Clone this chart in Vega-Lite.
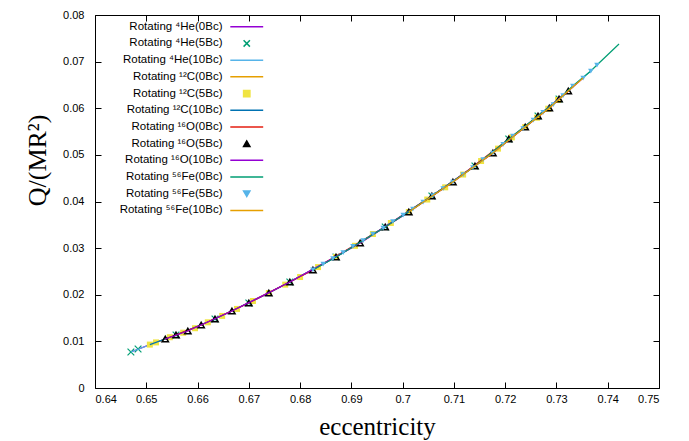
{
  "$schema": "https://vega.github.io/schema/vega-lite/v6.json",
  "width": 564,
  "height": 373,
  "autosize": {"type": "none"},
  "padding": {"left": 95, "top": 15, "right": 30, "bottom": 53},
  "background": "white",
  "config": {
    "font": "Liberation Sans",
    "view": {"stroke": "black", "strokeWidth": 1},
    "axis": {"domain": false, "grid": false, "tickColor": "black", "tickSize": -6, "tickWidth": 1, "labelColor": "black", "labelFontSize": 11, "labelFont": "Liberation Sans", "titleFont": "Liberation Serif", "titleFontSize": 25, "titleFontWeight": "normal", "titleColor": "black"}
  },
  "datasets": {
    "he0": [{"e":0.647,"q":0.00772},{"e":0.6507,"q":0.00931},{"e":0.6558,"q":0.01137},{"e":0.6607,"q":0.01351},{"e":0.6667,"q":0.01651},{"e":0.6739,"q":0.02037},{"e":0.6825,"q":0.02531},{"e":0.6917,"q":0.0311},{"e":0.7012,"q":0.03774},{"e":0.7098,"q":0.04418},{"e":0.7176,"q":0.0504},{"e":0.7239,"q":0.05597},{"e":0.7286,"q":0.06005},{"e":0.7323,"q":0.06369},{"e":0.7352,"q":0.06648}],
    "he5": [{"e":0.647,"q":0.00772},{"e":0.6484,"q":0.00836},{"e":0.6558,"q":0.01137},{"e":0.6634,"q":0.0148},{"e":0.67,"q":0.01823},{"e":0.678,"q":0.02273},{"e":0.687,"q":0.02809},{"e":0.6966,"q":0.03453},{"e":0.7057,"q":0.04118},{"e":0.7141,"q":0.04761},{"e":0.7207,"q":0.0534},{"e":0.7264,"q":0.05833},{"e":0.7305,"q":0.06198}],
    "he10": [{"e":0.647,"q":0.00772},{"e":0.6537,"q":0.01051},{"e":0.6607,"q":0.01351},{"e":0.67,"q":0.01823},{"e":0.678,"q":0.02273},{"e":0.687,"q":0.02809},{"e":0.6966,"q":0.03453},{"e":0.7057,"q":0.04118},{"e":0.7141,"q":0.04761},{"e":0.7207,"q":0.0534},{"e":0.7264,"q":0.05833},{"e":0.7305,"q":0.06198},{"e":0.7332,"q":0.06476},{"e":0.7367,"q":0.06798}],
    "c0": [{"e":0.6507,"q":0.00931},{"e":0.6581,"q":0.01222},{"e":0.6667,"q":0.01651},{"e":0.678,"q":0.02273},{"e":0.6917,"q":0.0311},{"e":0.7057,"q":0.04118},{"e":0.7176,"q":0.0504},{"e":0.7264,"q":0.05833},{"e":0.7323,"q":0.06369}],
    "c5": [{"e":0.6507,"q":0.00931},{"e":0.6519,"q":0.00978},{"e":0.6546,"q":0.01089},{"e":0.6572,"q":0.01186},{"e":0.6595,"q":0.01282},{"e":0.662,"q":0.01409},{"e":0.6648,"q":0.01546},{"e":0.6677,"q":0.01696},{"e":0.6708,"q":0.01866},{"e":0.6739,"q":0.02037},{"e":0.6771,"q":0.02217},{"e":0.68,"q":0.0238},{"e":0.6835,"q":0.02593},{"e":0.687,"q":0.02809},{"e":0.6907,"q":0.0305},{"e":0.6942,"q":0.03303},{"e":0.6977,"q":0.03539},{"e":0.7012,"q":0.03774},{"e":0.7048,"q":0.04042},{"e":0.7083,"q":0.04304},{"e":0.7118,"q":0.04578},{"e":0.7153,"q":0.04868},{"e":0.7186,"q":0.05134},{"e":0.7213,"q":0.05376},{"e":0.7239,"q":0.05597},{"e":0.7262,"q":0.05797},{"e":0.7284,"q":0.0599},{"e":0.7303,"q":0.06178}],
    "c10": [{"e":0.6507,"q":0.00931},{"e":0.6558,"q":0.01137},{"e":0.6634,"q":0.0148},{"e":0.6739,"q":0.02037},{"e":0.687,"q":0.02809},{"e":0.7012,"q":0.03774},{"e":0.7141,"q":0.04761},{"e":0.7239,"q":0.05597},{"e":0.7305,"q":0.06198},{"e":0.7323,"q":0.06369}],
    "o0": [{"e":0.6537,"q":0.01051},{"e":0.6607,"q":0.01351},{"e":0.67,"q":0.01823},{"e":0.6825,"q":0.02531},{"e":0.6966,"q":0.03453},{"e":0.7098,"q":0.04418},{"e":0.7207,"q":0.0534},{"e":0.7286,"q":0.06005},{"e":0.7323,"q":0.06369}],
    "o5": [{"e":0.6537,"q":0.01051},{"e":0.6558,"q":0.01137},{"e":0.6581,"q":0.01222},{"e":0.6607,"q":0.01351},{"e":0.6634,"q":0.0148},{"e":0.6667,"q":0.01651},{"e":0.67,"q":0.01823},{"e":0.6739,"q":0.02037},{"e":0.678,"q":0.02273},{"e":0.6825,"q":0.02531},{"e":0.687,"q":0.02809},{"e":0.6917,"q":0.0311},{"e":0.6966,"q":0.03453},{"e":0.7012,"q":0.03774},{"e":0.7057,"q":0.04118},{"e":0.7098,"q":0.04418},{"e":0.7141,"q":0.04761},{"e":0.7176,"q":0.0504},{"e":0.7207,"q":0.0534},{"e":0.7239,"q":0.05597},{"e":0.7264,"q":0.05833},{"e":0.7286,"q":0.06005},{"e":0.7305,"q":0.06198},{"e":0.7323,"q":0.06369}],
    "o10": [{"e":0.6537,"q":0.01051},{"e":0.6581,"q":0.01222},{"e":0.6667,"q":0.01651},{"e":0.678,"q":0.02273},{"e":0.6917,"q":0.0311},{"e":0.7057,"q":0.04118},{"e":0.7176,"q":0.0504},{"e":0.7264,"q":0.05833},{"e":0.7323,"q":0.06369}],
    "fe0": [{"e":0.6825,"q":0.02531},{"e":0.687,"q":0.02809},{"e":0.6966,"q":0.03453},{"e":0.7057,"q":0.04118},{"e":0.7141,"q":0.04761},{"e":0.7207,"q":0.0534},{"e":0.7264,"q":0.05833},{"e":0.7305,"q":0.06198},{"e":0.7332,"q":0.06476},{"e":0.7367,"q":0.06798},{"e":0.7379,"q":0.06927},{"e":0.7422,"q":0.07377}],
    "fe5": [{"e":0.6825,"q":0.02531},{"e":0.6845,"q":0.02659},{"e":0.6864,"q":0.02777},{"e":0.6884,"q":0.02906},{"e":0.6903,"q":0.03035},{"e":0.6923,"q":0.03163},{"e":0.6942,"q":0.03303},{"e":0.6962,"q":0.03431},{"e":0.6981,"q":0.03571},{"e":0.7001,"q":0.0371},{"e":0.702,"q":0.03839},{"e":0.704,"q":0.03989},{"e":0.7059,"q":0.04128},{"e":0.7079,"q":0.04278},{"e":0.7098,"q":0.04418},{"e":0.7118,"q":0.04578},{"e":0.7137,"q":0.04729},{"e":0.7157,"q":0.049},{"e":0.7176,"q":0.0504},{"e":0.7196,"q":0.05226},{"e":0.7215,"q":0.05404},{"e":0.7235,"q":0.05565},{"e":0.7255,"q":0.05743},{"e":0.7274,"q":0.0591},{"e":0.7294,"q":0.0608},{"e":0.7313,"q":0.06273},{"e":0.7332,"q":0.06476},{"e":0.7352,"q":0.06648},{"e":0.7367,"q":0.06798},{"e":0.7379,"q":0.06927}],
    "fe10": [{"e":0.7012,"q":0.03774},{"e":0.7098,"q":0.04418},{"e":0.7176,"q":0.0504},{"e":0.7239,"q":0.05597},{"e":0.7286,"q":0.06005},{"e":0.7323,"q":0.06369},{"e":0.7352,"q":0.06648}]
  },
  "encoding": {
    "x": {"field": "e", "type": "quantitative", "scale": {"domain": [0.64, 0.75], "nice": false, "zero": false}, "axis": null},
    "y": {"field": "q", "type": "quantitative", "scale": {"domain": [0, 0.08], "nice": false, "zero": false}, "axis": null}
  },
  "layer": [
    {
      "data": {"name": "he0"},
      "mark": {"type": "line", "strokeWidth": 1.2},
      "encoding": {
        "x": {"field": "e", "type": "quantitative", "scale": {"domain": [0.64, 0.75], "nice": false, "zero": false},
              "axis": {"orient": "bottom", "values": [0.64,0.65,0.66,0.67,0.68,0.69,0.7,0.71,0.72,0.73,0.74,0.75], "format": ".2~f", "title": "eccentricity", "labelPadding": 11, "titleY": 46, "titleBaseline": "alphabetic"}},
        "y": {"field": "q", "type": "quantitative", "scale": {"domain": [0, 0.08], "nice": false, "zero": false},
              "axis": {"orient": "left", "values": [0,0.01,0.02,0.03,0.04,0.05,0.06,0.07,0.08], "format": ".2~f", "title": "Q/(MR²)", "labelPadding": 17, "titlePadding": 12, "titleY": 145, "titleFontSize": 26}},
        "color": {
          "datum": "Rotating ⁴He(0Bc)", "type": "nominal",
          "scale": {
            "domain": ["Rotating ⁴He(0Bc)", "Rotating ⁴He(5Bc)", "Rotating ⁴He(10Bc)", "Rotating ¹²C(0Bc)", "Rotating ¹²C(5Bc)", "Rotating ¹²C(10Bc)", "Rotating ¹⁶O(0Bc)", "Rotating ¹⁶O(5Bc)", "Rotating ¹⁶O(10Bc)", "Rotating ⁵⁶Fe(0Bc)", "Rotating ⁵⁶Fe(5Bc)", "Rotating ⁵⁶Fe(10Bc)"],
            "range": ["#9400d3", "#009e73", "#56b4e9", "#e69f00", "#f0e442", "#0072b2", "#e51e10", "#000000", "#9400d3", "#009e73", "#56b4e9", "#e69f00"]
          },
          "legend": {
            "title": null, "orient": "none", "legendX": 146, "legendY": 6,
            "labelAlign": "right", "labelOffset": -30, "symbolOffset": 0, "symbolSize": 40,
            "labelFont": "Liberation Sans", "labelFontSize": 11.5, "labelColor": "black", "rowPadding": 3.7, "labelLimit": 0,
            "symbolType": "stroke", "symbolStrokeWidth": 1.5, "padding": 0,
            "encode": {"symbols": {"update": {
              "shape": {"signal": "datum.index == 1 ? 'M-1,-1L1,1M-1,1L1,-1' : datum.index == 4 ? 'square' : datum.index == 7 ? 'triangle-up' : datum.index == 10 ? 'triangle-down' : 'M-5.2,0L5.2,0'"},
              "fill": {"signal": "(datum.index == 4 || datum.index == 10) ? scale('color', datum.value) : 'transparent'"},
              "stroke": {"signal": "(datum.index == 4 || datum.index == 10) ? 'transparent' : scale('color', datum.value)"},
              "strokeWidth": {"value": 1.5},
              "opacity": {"value": 1}
            }}}
          }
        }
      }
    },
    {"data": {"name": "he5"}, "mark": {"type": "point", "shape": "M-1,-1L1,1M-1,1L1,-1", "filled": false, "size": 45, "strokeWidth": 1.2, "opacity": 1}, "encoding": {"color": {"datum": "Rotating ⁴He(5Bc)", "type": "nominal"}}},
    {"data": {"name": "he10"}, "mark": {"type": "line", "strokeWidth": 1.2}, "encoding": {"color": {"datum": "Rotating ⁴He(10Bc)", "type": "nominal"}}},
    {"data": {"name": "c0"}, "mark": {"type": "line", "strokeWidth": 1.2}, "encoding": {"color": {"datum": "Rotating ¹²C(0Bc)", "type": "nominal"}}},
    {"data": {"name": "c5"}, "mark": {"type": "point", "shape": "square", "filled": true, "size": 36, "opacity": 1}, "encoding": {"color": {"datum": "Rotating ¹²C(5Bc)", "type": "nominal"}}},
    {"data": {"name": "c10"}, "mark": {"type": "line", "strokeWidth": 1.2}, "encoding": {"color": {"datum": "Rotating ¹²C(10Bc)", "type": "nominal"}}},
    {"data": {"name": "o0"}, "mark": {"type": "line", "strokeWidth": 1.2}, "encoding": {"color": {"datum": "Rotating ¹⁶O(0Bc)", "type": "nominal"}}},
    {"data": {"name": "o5"}, "mark": {"type": "point", "shape": "triangle-up", "filled": false, "size": 40, "strokeWidth": 1.5, "opacity": 1}, "encoding": {"color": {"datum": "Rotating ¹⁶O(5Bc)", "type": "nominal"}}},
    {"data": {"name": "o10"}, "mark": {"type": "line", "strokeWidth": 1.2}, "encoding": {"color": {"datum": "Rotating ¹⁶O(10Bc)", "type": "nominal"}}},
    {"data": {"name": "fe0"}, "mark": {"type": "line", "strokeWidth": 1.2}, "encoding": {"color": {"datum": "Rotating ⁵⁶Fe(0Bc)", "type": "nominal"}}},
    {"data": {"name": "fe5"}, "mark": {"type": "point", "shape": "triangle-down", "filled": true, "size": 30, "opacity": 1}, "encoding": {"color": {"datum": "Rotating ⁵⁶Fe(5Bc)", "type": "nominal"}}},
    {
      "data": {"name": "fe10"},
      "mark": {"type": "line", "strokeWidth": 1.2},
      "encoding": {
        "x": {"field": "e", "type": "quantitative", "scale": {"domain": [0.64, 0.75], "nice": false, "zero": false},
              "axis": {"orient": "top", "values": [0.64,0.65,0.66,0.67,0.68,0.69,0.7,0.71,0.72,0.73,0.74,0.75], "labels": false, "title": null}},
        "y": {"field": "q", "type": "quantitative", "scale": {"domain": [0, 0.08], "nice": false, "zero": false},
              "axis": {"orient": "right", "values": [0,0.01,0.02,0.03,0.04,0.05,0.06,0.07,0.08], "labels": false, "title": null}},
        "color": {"datum": "Rotating ⁵⁶Fe(10Bc)", "type": "nominal"}
      }
    }
  ]
}
